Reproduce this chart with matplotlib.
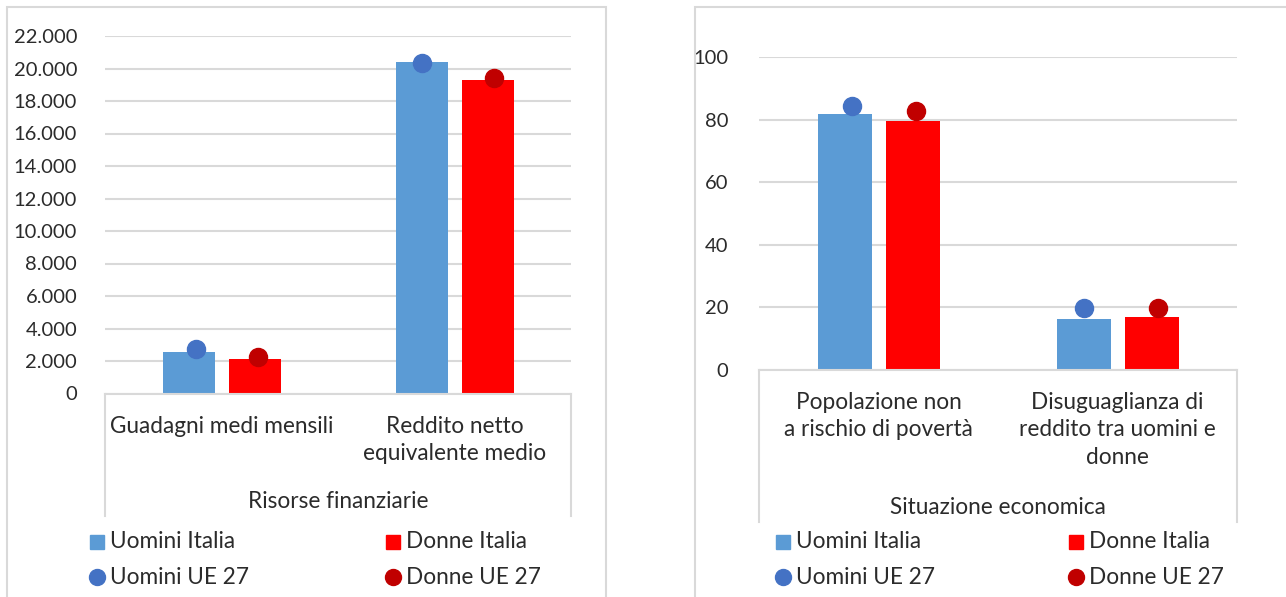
import matplotlib
matplotlib.use("Agg")
import matplotlib.pyplot as plt
from matplotlib.lines import Line2D
from matplotlib.patches import Rectangle
from matplotlib.transforms import blended_transform_factory
from matplotlib.ticker import FuncFormatter

plt.rcParams['font.family'] = ['Lato', 'DejaVu Sans']

# data
cat_fin = ["Guadagni medi mensili", "Reddito netto\nequivalente medio"]
group_fin = "Risorse finanziarie"
uomini_it_fin = [2580, 20400]
donne_it_fin = [2110, 19300]
uomini_ue_fin = [2730, 20350]
donne_ue_fin = [2230, 19400]

cat_eco = ["Popolazione non\na rischio di povertà", "Disuguaglianza di\nreddito tra uomini e\ndonne"]
group_eco = "Situazione economica"
uomini_it_eco = [81.8, 16.2]
donne_it_eco = [79.6, 17.0]
uomini_ue_eco = [84.4, 19.7]
donne_ue_eco = [82.7, 19.7]

series_names = ["Uomini Italia", "Donne Italia", "Uomini UE 27", "Donne UE 27"]

W, H = 1286, 597
BLUE = "#5b9bd5"
RED = "#ff0000"
DBLUE = "#4472c4"
DRED = "#c00000"
GRID = "#d9d9d9"
TXT = "#2b2b2b"
FS = 16.3
TICK_FS = 14.5

fig = plt.figure(figsize=(W / 100, H / 100), dpi=100)


def px(x, y):
    return x / W, 1 - y / H


# panel borders
fig.add_artist(Rectangle(px(7, 620), 599 / W, 613 / H, fill=False,
                         edgecolor=GRID, lw=1.5, transform=fig.transFigure))
fig.add_artist(Rectangle(px(695, 620), 620 / W, 613 / H, fill=False,
                         edgecolor=GRID, lw=1.5, transform=fig.transFigure))


def panel(rect, cats, group, ui, di, uu, du, ymax, ystep, fmt, pad,
          lab_y, group_y, box_bottom, leg_x):
    ax = fig.add_axes(rect)
    x = list(range(len(cats)))
    w = 0.225
    ax.bar([i - 0.14 for i in x], ui, width=w, color=BLUE, zorder=2)
    ax.bar([i + 0.145 for i in x], di, width=w, color=RED, zorder=2)
    # markers sit a bit off the bar centres in the original
    ax.plot([i + d for i, d in zip(x, [-0.11, -0.14])], uu, 'o', ms=13,
            color=DBLUE, zorder=3, clip_on=False)
    ax.plot([i + d for i, d in zip(x, [0.155, 0.17])], du, 'o', ms=13,
            color=DRED, zorder=3, clip_on=False)
    ax.set_xlim(-0.5, len(cats) - 0.5)
    ax.set_ylim(0, ymax)
    ax.set_yticks(range(0, ymax + 1, ystep))
    ax.yaxis.set_major_formatter(FuncFormatter(fmt))
    ax.set_xticks([])
    ax.tick_params(axis='y', length=0, pad=pad, labelsize=TICK_FS, labelcolor=TXT)
    ax.grid(axis='y', color=GRID, lw=1.5, zorder=0)
    ax.set_axisbelow(True)
    for s in ["top", "right", "left"]:
        ax.spines[s].set_visible(False)
    ax.spines["bottom"].set_color(GRID)
    ax.spines["bottom"].set_linewidth(1.5)

    tr = blended_transform_factory(ax.transData, fig.transFigure)
    for i, c in enumerate(cats):
        ax.text(i, 1 - lab_y / H, c, transform=tr, ha='center', va='top',
                fontsize=FS, color=TXT, linespacing=1.38)
    trb = blended_transform_factory(ax.transAxes, fig.transFigure)
    ax.text(0.5, 1 - group_y / H, group, transform=trb,
            ha='center', va='center', fontsize=FS, color=TXT)
    for xx in (0, 1):
        ax.add_line(Line2D([xx, xx], [rect[1], 1 - box_bottom / H], transform=trb,
                           color=GRID, lw=1.5, clip_on=False))

    # legend
    entries = [(leg_x[0], 542, 's', BLUE, 10, series_names[0]),
               (leg_x[1], 542, 's', RED, 10, series_names[1]),
               (leg_x[0], 577, 'o', DBLUE, 11.5, series_names[2]),
               (leg_x[1], 577, 'o', DRED, 11.5, series_names[3])]
    for lx, ly, mk, col, ms, name in entries:
        fig.add_artist(Line2D([(lx - 13) / W], [1 - ly / H], marker=mk, ms=ms,
                              color=col, ls='none', transform=fig.transFigure))
        fig.text(lx / W, 1 - ly / H, name, ha='left', va='center',
                 fontsize=FS, color=TXT)
    return ax


panel([105 / W, 1 - 393.5 / H, 466 / W, 357.5 / H], cat_fin, group_fin,
      uomini_it_fin, donne_it_fin, uomini_ue_fin, donne_ue_fin,
      22000, 2000, lambda v, p: f"{int(v):,}".replace(",", "."), 20,
      416, 502, 516, (110, 406))

panel([759 / W, 1 - 370 / H, 478 / W, 313 / H], cat_eco, group_eco,
      uomini_it_eco, donne_it_eco, uomini_ue_eco, donne_ue_eco,
      100, 20, lambda v, p: f"{int(v)}", 22,
      392, 507, 522, (796, 1089))

fig.savefig("out.png", dpi=100)
